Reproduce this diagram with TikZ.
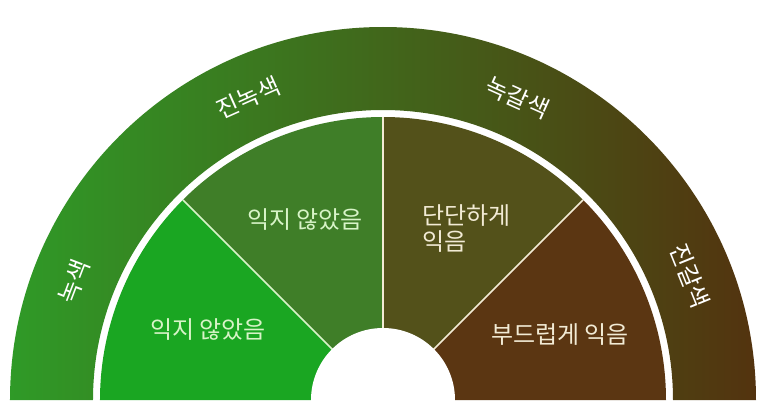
\documentclass[tikz,border=0pt]{standalone}
\usepackage{fontspec}
\newfontfamily\kr{Noto Sans CJK KR}
\definecolor{ringL}{HTML}{2F9A27}
\definecolor{ringM}{HTML}{4B6722}
\definecolor{ringR}{HTML}{53330F}
\definecolor{secA}{HTML}{1AA622}
\definecolor{secB}{HTML}{3F7E28}
\definecolor{secC}{HTML}{53511A}
\definecolor{secD}{HTML}{5B3612}
\definecolor{txtG}{HTML}{D8F4C8}
\definecolor{txtB}{HTML}{F2EBD5}
\begin{document}
\begin{tikzpicture}[x=1pt, y=1pt,
        ringlbl/.style={text=white, font=\kr\fontsize{24}{28}\selectfont},
        seclbl/.style={font=\kr\fontsize{24}{26}\selectfont, align=left},
        divider/.style={line width=1.6pt}
    ]
    \useasboundingbox (-383,0) rectangle (383,400);
    \shade[left color=ringL, middle color=ringM, right color=ringR]
        (-373,0) arc[start angle=180, end angle=0, radius=373] -- (290,0)
        arc[start angle=0, end angle=180, radius=290] -- cycle;
    \fill[secA] (0,0) -- (180:283) arc[start angle=180, end angle=135, radius=283] -- cycle;
    \fill[secB] (0,0) -- (135:283) arc[start angle=135, end angle=90, radius=283] -- cycle;
    \fill[secC] (0,0) -- (90:283) arc[start angle=90, end angle=45, radius=283] -- cycle;
    \fill[secD] (0,0) -- (45:283) arc[start angle=45, end angle=0, radius=283] -- cycle;
    \draw[divider, txtG] (0,0) -- (135:283);
    \draw[divider, txtB] (0,0) -- (90:283);
    \draw[divider, txtB] (0,0) -- (45:283);
    \fill[white] (0,0) circle (72);
    \node[ringlbl, rotate=69] (green) at (159:331) {녹색};
    \node[ringlbl, rotate=24] (darkgreen) at (114:331) {진녹색};
    \node[ringlbl, rotate=-24] (greenbrown) at (66:331) {녹갈색};
    \node[ringlbl, rotate=-68] (darkbrown) at (22:331) {진갈색};
    \node[seclbl, text=txtG] (unripeA) at (-175,70) {익지 않았음};
    \node[seclbl, text=txtG] (unripeB) at (-78,180) {익지 않았음};
    \node[seclbl, text=txtB, anchor=west] (firm) at (36,171) {단단하게\\익음};
    \node[seclbl, text=txtB] (soft) at (177,65) {부드럽게 익음};
\end{tikzpicture}
\end{document}
